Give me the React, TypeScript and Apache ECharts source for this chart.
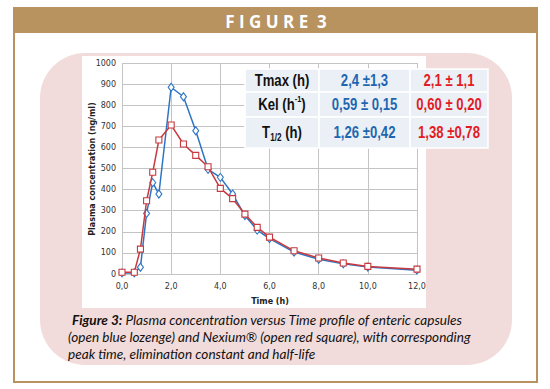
import React, { useEffect, useRef } from "react";
import * as echarts from "echarts";

const times = [0, 0.5, 0.75, 1, 1.25, 1.5, 2, 2.5, 3, 3.5, 4, 4.5, 5, 5.5, 6, 7, 8, 9, 10, 12];
const capsules = [5, 5, 32, 287, 433, 379, 885, 840, 679, 496, 458, 379, 277, 208, 168, 104, 70, 48, 33, 18];
const nexium = [8, 8, 118, 347, 482, 635, 706, 616, 562, 508, 406, 357, 284, 221, 175, 110, 76, 52, 36, 23];

const rowLabels = ["{a|Tmax (h)}", "{a|Kel (h}{sup|-1}{a|)}", "{a|T}{sub|1/2}{a| (h)}"];
const capsuleStats = ["2,4 ±1,3", "0,59 ± 0,15", "1,26 ±0,42"];
const nexiumStats = ["2,1 ± 1,1", "0,60 ± 0,20", "1,38 ±0,78"];

const figureTitle = "F I G U R E  3";
const xTitle = "Time (h)";
const yTitle = "Plasma concentration (ng/ml)";
const captionLines = [
  "{b|Figure 3:} Plasma concentration versus Time profile of enteric capsules",
  "(open blue lozenge) and Nexium® (open red square), with corresponding",
  "peak time, elimination constant and half-life",
];

const GOLD = "#B8935F";
const PINK = "#F2DCDB";
const BLUE = "#2E74C4";
const RED = "#C73A3F";
const TBL_BLUE = "#1F66B0";
const TBL_RED = "#E31B23";
const SANS = "'Liberation Sans', Arial, sans-serif";
const NARROW_SCALE = 0.82;

export default function App() {
  const ref = useRef<HTMLDivElement>(null);
  useEffect(() => {
    if (!ref.current) return;
    const chart = echarts.init(ref.current, undefined, { renderer: "svg" });

    const rowY = [69, 92, 117, 148];
    const colX = [245, 319, 410, 488];
    const tableEls: any[] = [];
    for (let r = 0; r < 3; r++) {
      for (let c = 0; c < 3; c++) {
        tableEls.push({
          type: "rect",
          z: 50,
          shape: { x: colX[c], y: rowY[r], width: colX[c + 1] - colX[c], height: rowY[r + 1] - rowY[r] },
          style: { fill: "#EAF0F6", stroke: "#FFFFFF", lineWidth: 1.5 },
        });
      }
      const cy = (rowY[r] + rowY[r + 1]) / 2;
      tableEls.push({
        type: "text",
        z: 60,
        x: (colX[0] + colX[1]) / 2,
        y: cy,
        scaleX: NARROW_SCALE,
        style: {
          text: rowLabels[r],
          align: "center",
          verticalAlign: "middle",
          rich: {
            a: { fontFamily: SANS, fontWeight: "bold", fontSize: 16, fill: "#111", lineHeight: 20 },
            sup: { fontFamily: SANS, fontWeight: "bold", fontSize: 9, fill: "#111", verticalAlign: "top", lineHeight: 9 },
            sub: { fontFamily: SANS, fontWeight: "bold", fontSize: 10, fill: "#111", verticalAlign: "bottom", lineHeight: 10 },
          },
        },
      });
      tableEls.push({
        type: "text",
        z: 60,
        x: (colX[1] + colX[2]) / 2,
        y: cy,
        scaleX: NARROW_SCALE,
        style: {
          text: capsuleStats[r],
          align: "center",
          verticalAlign: "middle",
          fontFamily: SANS,
          fontWeight: "bold",
          fontSize: 16,
          fill: TBL_BLUE,
        },
      });
      tableEls.push({
        type: "text",
        z: 60,
        x: (colX[2] + colX[3]) / 2,
        y: cy,
        scaleX: NARROW_SCALE,
        style: {
          text: nexiumStats[r],
          align: "center",
          verticalAlign: "middle",
          fontFamily: SANS,
          fontWeight: "bold",
          fontSize: 16,
          fill: TBL_RED,
        },
      });
    }

    const captionEls = captionLines.map((t, i) => ({
      type: "text",
      z: 60,
      x: i === 0 ? 72 : 68,
      y: 320 + i * 17,
      style: {
        text: t,
        align: "left",
        verticalAlign: "middle",
        fontFamily: "Lato, 'Open Sans', sans-serif",
        fontStyle: "italic",
        fontSize: 13.6,
        fill: "#111",
        rich: {
          b: { fontFamily: "Lato, 'Open Sans', sans-serif", fontStyle: "italic", fontWeight: "bold", fontSize: 13.6, fill: "#111" },
        },
      },
    }));

    chart.setOption({
      animation: false,
      grid: { left: 122, right: 133, top: 63, bottom: 115 },
      xAxis: {
        type: "value",
        min: 0,
        max: 12,
        interval: 2,
        axisLine: { show: false },
        axisTick: { show: false },
        axisLabel: {
          fontFamily: "'DejaVu Sans', sans-serif",
          fontSize: 8,
          color: "#333",
          margin: 8,
          formatter: (v: number) => v.toFixed(1).replace(".", ","),
        },
        splitLine: { show: true, lineStyle: { color: "#C4C4C4", width: 1 } },
      },
      yAxis: {
        type: "value",
        min: 0,
        max: 1000,
        interval: 100,
        axisLine: { show: false },
        axisTick: { show: false },
        axisLabel: {
          fontFamily: "'DejaVu Sans', sans-serif",
          fontSize: 8,
          color: "#333",
          margin: 6,
          formatter: (v: number) => String(v),
        },
        splitLine: { show: true, lineStyle: { color: "#C4C4C4", width: 1 } },
      },
      series: [
        {
          type: "line",
          name: "Enteric capsules",
          data: times.map((t, i) => [t, capsules[i]]),
          symbol: "diamond",
          symbolSize: [6, 8],
          lineStyle: { color: BLUE, width: 1.5 },
          itemStyle: { color: "#FFFFFF", borderColor: BLUE, borderWidth: 1.1 },
          z: 3,
        },
        {
          type: "line",
          name: "Nexium",
          data: times.map((t, i) => [t, nexium[i]]),
          symbol: "rect",
          symbolSize: 6,
          lineStyle: { color: RED, width: 1.5 },
          itemStyle: { color: "#FFFFFF", borderColor: RED, borderWidth: 1.1 },
          z: 4,
        },
      ],
      graphic: [
        { type: "rect", z: -10, shape: { x: 14, y: 8, width: 523, height: 374 }, style: { fill: "#FFFFFF", stroke: GOLD, lineWidth: 2 } },
        { type: "rect", z: -9, shape: { x: 14, y: 8, width: 523, height: 25 }, style: { fill: GOLD } },
        {
          type: "text",
          z: -8,
          x: 276,
          y: 21,
          style: {
            text: figureTitle,
            align: "center",
            verticalAlign: "middle",
            fontFamily: "'Open Sans', sans-serif",
            fontWeight: "bold",
            fontSize: 17,
            fill: "#FFFFFF",
          },
        },
        { type: "rect", z: -8, shape: { x: 40, y: 53, width: 472, height: 312, r: 45 }, style: { fill: PINK } },
        { type: "rect", z: -7, shape: { x: 82, y: 56, width: 344, height: 252 }, style: { fill: "#FFFFFF" } },
        {
          type: "text",
          z: 10,
          x: 270,
          y: 301,
          style: { text: xTitle, align: "center", verticalAlign: "middle", fontFamily: "'DejaVu Sans', sans-serif", fontWeight: "bold", fontSize: 8, fill: "#222" },
        },
        {
          type: "text",
          z: 10,
          x: 92,
          y: 169,
          rotation: Math.PI / 2,
          style: { text: yTitle, align: "center", verticalAlign: "middle", fontFamily: "'DejaVu Sans', sans-serif", fontWeight: "bold", fontSize: 8, fill: "#222" },
        },
        ...tableEls,
        ...captionEls,
      ],
    });
    return () => chart.dispose();
  }, []);
  return <div ref={ref} style={{ position: "absolute", left: 0, top: 0, width: 550, height: 389 }} />;
}
